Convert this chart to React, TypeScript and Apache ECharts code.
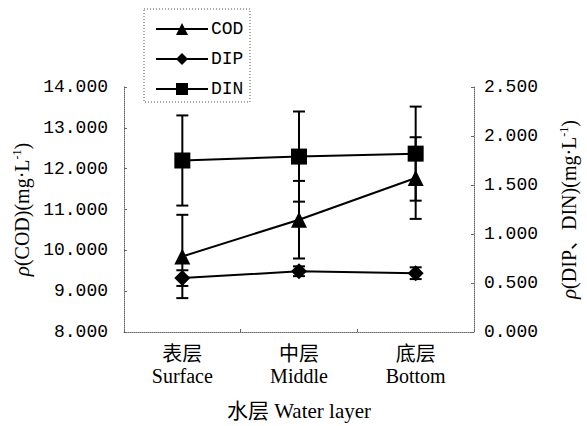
import React, { useEffect, useRef } from "react";
import * as echarts from "echarts";

const categoriesZh = ["表层", "中层", "底层"];
const categoriesEn = ["Surface", "Middle", "Bottom"];
const codValues = [9.85, 10.75, 11.77];
const codErrors = [1.02, 0.95, 1.0];
const dipValues = [0.55, 0.62, 0.6];
const dipErrors = [0.08, 0.05, 0.06];
const dinValues = [1.75, 1.79, 1.82];
const dinErrors = [0.46, 0.46, 0.48];
const leftTicks = [8, 9, 10, 11, 12, 13, 14];
const rightTicks = [0, 0.5, 1, 1.5, 2, 2.5];

const SERIF = "'Liberation Serif', 'Noto Sans CJK SC', serif";
const MONO = "'Liberation Mono', monospace";

function errData(vals: number[], errs: number[]) {
  return vals.map((v, i) => [i, v - errs[i], v + errs[i]]);
}

function errorRender(params: any, api: any) {
  const x = api.value(0);
  const lo = api.value(1);
  const hi = api.value(2);
  const p1 = api.coord([x, hi]);
  const p2 = api.coord([x, lo]);
  const w = 6;
  const st = { stroke: "#000", lineWidth: 2 };
  return {
    type: "group",
    children: [
      { type: "line", shape: { x1: p1[0], y1: p1[1], x2: p2[0], y2: p2[1] }, style: st },
      { type: "line", shape: { x1: p1[0] - w, y1: p1[1], x2: p1[0] + w, y2: p1[1] }, style: st },
      { type: "line", shape: { x1: p2[0] - w, y1: p2[1], x2: p2[0] + w, y2: p2[1] }, style: st },
    ],
  };
}

export default function App() {
  const ref = useRef<HTMLDivElement>(null);
  useEffect(() => {
    document.body.style.margin = "0";
    const chart = echarts.init(ref.current!, null, { renderer: "svg" });
    const axisLine = { show: true, lineStyle: { color: "#666", width: 1, type: "dotted" as const } };
    const nameRich = {
      i: { fontStyle: "italic", fontFamily: SERIF, fontSize: 21, color: "#000" },
      t: { fontFamily: SERIF, fontSize: 20, color: "#000" },
      s: { fontFamily: SERIF, fontSize: 12, color: "#000", verticalAlign: "top", padding: [0, 0, 9, 0] },
    };
    chart.setOption({
      animation: false,
      backgroundColor: "#fff",
      grid: { left: 124, right: 105, top: 87, bottom: 92 },
      legend: {
        orient: "vertical",
        left: 150,
        top: 15,
        itemWidth: 52,
        itemHeight: 15,
        itemGap: 12,
        data: ["COD", "DIP", "DIN"],
        textStyle: { fontFamily: MONO, fontSize: 18, color: "#000", padding: [0, 0, 0, -2] },
      },
      graphic: [
        {
          type: "rect",
          shape: { x: 144, y: 9, width: 106, height: 93 },
          style: { fill: "none", stroke: "#555", lineWidth: 1, lineDash: [1, 2] },
        },
      ],
      xAxis: {
        type: "category",
        data: categoriesZh.map((c, i) => c + "\n" + categoriesEn[i]),
        boundaryGap: true,
        axisLine,
        axisTick: { show: true, inside: true, length: 3, lineStyle: { color: "#666" } },
        axisLabel: { fontFamily: SERIF, fontSize: 20, color: "#000", lineHeight: 22, margin: 11 },
        name: "水层 Water layer",
        nameLocation: "middle",
        nameGap: 68,
        nameTextStyle: { fontFamily: SERIF, fontSize: 21, color: "#000" },
      },
      yAxis: [
        {
          type: "value",
          min: leftTicks[0],
          max: leftTicks[leftTicks.length - 1],
          interval: 1,
          axisLine,
          axisTick: { show: true, inside: true, length: 3, lineStyle: { color: "#666" } },
          splitLine: { show: false },
          axisLabel: {
            fontFamily: MONO,
            fontSize: 18,
            color: "#000",
            margin: 16,
            formatter: (v: number) => v.toFixed(3),
          },
          name: "{i|ρ}{t|(COD)(mg·L}{s|-1}{t|)}",
          nameLocation: "middle",
          nameRotate: 90,
          nameGap: 88,
          nameTextStyle: { rich: nameRich },
        },
        {
          type: "value",
          min: rightTicks[0],
          max: rightTicks[rightTicks.length - 1],
          interval: 0.5,
          position: "right",
          axisLine,
          axisTick: { show: true, inside: true, length: 3, lineStyle: { color: "#666" } },
          splitLine: { show: false },
          axisLabel: {
            fontFamily: MONO,
            fontSize: 18,
            color: "#000",
            margin: 10,
            formatter: (v: number) => v.toFixed(3),
          },
          name: "{i|ρ}{t|(DIP、DIN)(mg·L}{s|-1}{t|)}",
          nameLocation: "middle",
          nameRotate: 90,
          nameGap: 84,
          nameTextStyle: { rich: nameRich },
        },
      ],
      series: [
        {
          name: "COD_err",
          type: "custom",
          yAxisIndex: 0,
          renderItem: errorRender,
          data: errData(codValues, codErrors),
          encode: { x: 0, y: [1, 2] },
          z: 1,
        },
        {
          name: "DIP_err",
          type: "custom",
          yAxisIndex: 1,
          renderItem: errorRender,
          data: errData(dipValues, dipErrors),
          encode: { x: 0, y: [1, 2] },
          z: 1,
        },
        {
          name: "DIN_err",
          type: "custom",
          yAxisIndex: 1,
          renderItem: errorRender,
          data: errData(dinValues, dinErrors),
          encode: { x: 0, y: [1, 2] },
          z: 1,
        },
        {
          name: "COD",
          type: "line",
          yAxisIndex: 0,
          data: codValues,
          symbol: "triangle",
          symbolSize: 16,
          itemStyle: { color: "#000" },
          lineStyle: { color: "#000", width: 2 },
          z: 3,
        },
        {
          name: "DIP",
          type: "line",
          yAxisIndex: 1,
          data: dipValues,
          symbol: "diamond",
          symbolSize: 16,
          itemStyle: { color: "#000" },
          lineStyle: { color: "#000", width: 2 },
          z: 3,
        },
        {
          name: "DIN",
          type: "line",
          yAxisIndex: 1,
          data: dinValues,
          symbol: "rect",
          symbolSize: 16,
          itemStyle: { color: "#000" },
          lineStyle: { color: "#000", width: 2 },
          z: 3,
        },
      ],
    });
    return () => chart.dispose();
  }, []);
  return <div ref={ref} style={{ width: 587, height: 426 }} />;
}
